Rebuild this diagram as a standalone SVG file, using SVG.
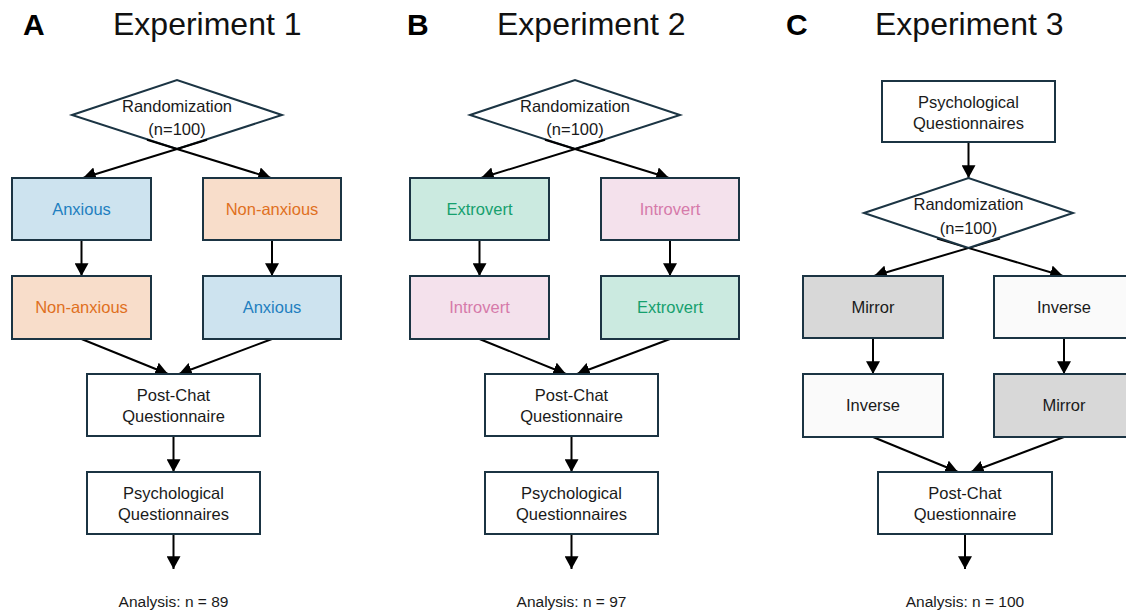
<svg xmlns="http://www.w3.org/2000/svg" width="1126" height="610" viewBox="0 0 1126 610">
<style>
text{font-family:"Liberation Sans",Arial,sans-serif;text-anchor:middle;fill:#1a1a1a;font-size:16.5px}
.lbl{font-weight:bold;font-size:30px;text-anchor:start;fill:#000}
.ttl{font-size:32px;text-anchor:start;fill:#111}
.an{font-size:15.5px}
.box{stroke:#1b3443;stroke-width:2}
.w{fill:#fff}
.blue{fill:#cde3ef}.orange{fill:#f8ddca}.green{fill:#cbeae0}.pink{fill:#f4e1ec}.gray{fill:#d8d8d8}.ws{fill:#fafafa}
.tb{fill:#1f7fc0}.to{fill:#e0701e}.tg{fill:#16a06e}.tp{fill:#d67aaa}
.c{stroke:#000;stroke-width:2;fill:none;marker-end:url(#ah)}
</style>
<defs>
<marker id="ah" markerUnits="userSpaceOnUse" markerWidth="14" markerHeight="14" viewBox="0 0 12 12" refX="11" refY="6" orient="auto">
<path d="M0,0 L11,6 L0,12 Z" fill="#000"/>
</marker>
</defs>
<rect width="1126" height="610" fill="#fff"/>

<!-- titles -->
<g id="titles">
<text class="lbl" x="23" y="35">A</text>
<text class="ttl" x="113" y="35">Experiment 1</text>
<text class="lbl" x="407" y="35">B</text>
<text class="ttl" x="497" y="35">Experiment 2</text>
<text class="lbl" x="786" y="35">C</text>
<text class="ttl" x="875" y="35">Experiment 3</text>
</g>

<!-- Panel A nodes -->
<g id="a-rand"><polygon class="box w" points="72,115 177,80 282,115 177,149"/><text x="177" y="112">Randomization</text><text x="177" y="135">(n=100)</text></g>

<!-- Panel A connectors -->
<g id="a-connectors">
<line class="c" x1="207" y1="139.8" x2="83" y2="178"/>
<line class="c" x1="147" y1="139.8" x2="271" y2="178"/>
<line class="c" x1="81.5" y1="240" x2="81.5" y2="276"/>
<line class="c" x1="272" y1="240" x2="272" y2="276"/>
<line class="c" x1="81.5" y1="339" x2="168" y2="374"/>
<line class="c" x1="272" y1="339" x2="179" y2="374"/>
<line class="c" x1="173.5" y1="436" x2="173.5" y2="472"/>
<line class="c" x1="173.5" y1="534" x2="173.5" y2="569"/>
</g>

<g id="a-anx1"><rect class="box blue" x="12" y="178" width="139" height="62"/><text class="tb" x="81.5" y="215">Anxious</text></g>
<g id="a-non1"><rect class="box orange" x="203" y="178" width="138" height="62"/><text class="to" x="272" y="215">Non-anxious</text></g>
<g id="a-non2"><rect class="box orange" x="12" y="276" width="139" height="63"/><text class="to" x="81.5" y="313">Non-anxious</text></g>
<g id="a-anx2"><rect class="box blue" x="203" y="276" width="138" height="63"/><text class="tb" x="272" y="313">Anxious</text></g>
<g id="a-post"><rect class="box w" x="87" y="374" width="173" height="62"/><text x="173.5" y="401">Post-Chat</text><text x="173.5" y="422">Questionnaire</text></g>
<g id="a-psych"><rect class="box w" x="87" y="472" width="173" height="62"/><text x="173.5" y="499">Psychological</text><text x="173.5" y="520">Questionnaires</text></g>
<g id="a-analysis"><text class="an" x="173.5" y="607">Analysis: n = 89</text></g>

<!-- Panel B -->
<g id="b-rand"><polygon class="box w" points="470,115 575,80 680,115 575,149"/><text x="575" y="112">Randomization</text><text x="575" y="135">(n=100)</text></g>

<g id="b-connectors">
<line class="c" x1="605" y1="139.8" x2="481" y2="178"/>
<line class="c" x1="545" y1="139.8" x2="669" y2="178"/>
<line class="c" x1="479.5" y1="240" x2="479.5" y2="276"/>
<line class="c" x1="670" y1="240" x2="670" y2="276"/>
<line class="c" x1="479.5" y1="339" x2="566" y2="374"/>
<line class="c" x1="670" y1="339" x2="577" y2="374"/>
<line class="c" x1="571.5" y1="436" x2="571.5" y2="472"/>
<line class="c" x1="571.5" y1="534" x2="571.5" y2="569"/>
</g>

<g id="b-ext1"><rect class="box green" x="410" y="178" width="139" height="62"/><text class="tg" x="479.5" y="215">Extrovert</text></g>
<g id="b-int1"><rect class="box pink" x="601" y="178" width="138" height="62"/><text class="tp" x="670" y="215">Introvert</text></g>
<g id="b-int2"><rect class="box pink" x="410" y="276" width="139" height="63"/><text class="tp" x="479.5" y="313">Introvert</text></g>
<g id="b-ext2"><rect class="box green" x="601" y="276" width="138" height="63"/><text class="tg" x="670" y="313">Extrovert</text></g>
<g id="b-post"><rect class="box w" x="485" y="374" width="173" height="62"/><text x="571.5" y="401">Post-Chat</text><text x="571.5" y="422">Questionnaire</text></g>
<g id="b-psych"><rect class="box w" x="485" y="472" width="173" height="62"/><text x="571.5" y="499">Psychological</text><text x="571.5" y="520">Questionnaires</text></g>
<g id="b-analysis"><text class="an" x="571.5" y="607">Analysis: n = 97</text></g>

<!-- Panel C -->
<g id="c-connectors">
<line class="c" x1="968.5" y1="142" x2="968.5" y2="178"/>
<line class="c" x1="1000" y1="238.6" x2="874" y2="276"/>
<line class="c" x1="937" y1="238.6" x2="1063" y2="276"/>
<line class="c" x1="873" y1="338" x2="873" y2="374"/>
<line class="c" x1="1064" y1="338" x2="1064" y2="374"/>
<line class="c" x1="873" y1="437" x2="958" y2="472"/>
<line class="c" x1="1064" y1="437" x2="971" y2="472"/>
<line class="c" x1="965" y1="534" x2="965" y2="569"/>
</g>

<g id="c-psych"><rect class="box w" x="882" y="81" width="173" height="61"/><text x="968.5" y="108">Psychological</text><text x="968.5" y="129">Questionnaires</text></g>
<g id="c-rand"><polygon class="box w" points="864,213 968.5,178 1073,213 968.5,248"/><text x="968.5" y="210">Randomization</text><text x="968.5" y="234">(n=100)</text></g>
<g id="c-mir1"><rect class="box gray" x="803" y="276" width="140" height="62"/><text x="873" y="313">Mirror</text></g>
<g id="c-inv1"><rect class="box ws" x="994" y="276" width="140" height="62"/><text x="1064" y="313">Inverse</text></g>
<g id="c-inv2"><rect class="box ws" x="803" y="374" width="140" height="63"/><text x="873" y="411">Inverse</text></g>
<g id="c-mir2"><rect class="box gray" x="994" y="374" width="140" height="63"/><text x="1064" y="411">Mirror</text></g>
<g id="c-post"><rect class="box w" x="878" y="472" width="174" height="62"/><text x="965" y="499">Post-Chat</text><text x="965" y="520">Questionnaire</text></g>
<g id="c-analysis"><text class="an" x="965" y="607">Analysis: n = 100</text></g>
</svg>
